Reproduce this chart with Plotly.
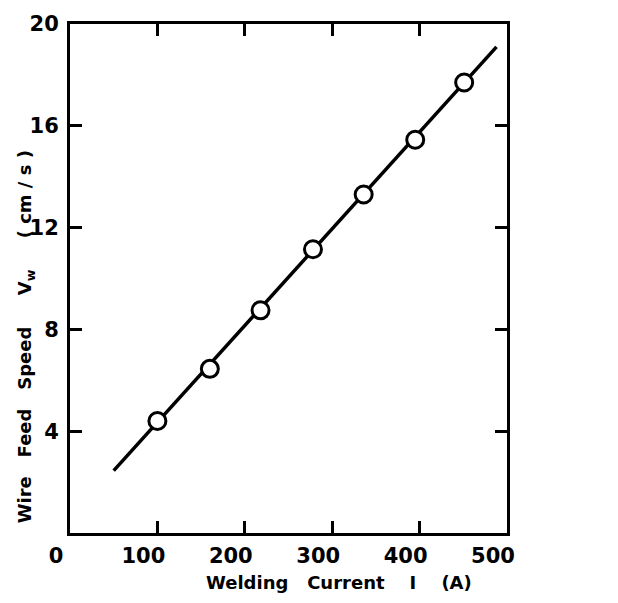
import plotly.graph_objects as go

current = [100, 160, 218, 278, 336, 395, 451]
speed = [4.4, 6.45, 8.75, 11.15, 13.3, 15.45, 17.7]
fit_current = [50, 488]
fit_speed = [2.45, 19.1]
x_ticks = [0, 100, 200, 300, 400, 500]
y_ticks = [4, 8, 12, 16, 20]
x_title = "Welding   Current    I    (A)"
y_title = "Wire   Feed   Speed     V<sub>w</sub>     ( cm / s )"

font = "DejaVu Sans"

fig = go.Figure()
fig.add_trace(go.Scatter(x=fit_current, y=fit_speed, mode="lines",
                         line=dict(color="black", width=3.5), hoverinfo="skip"))
fig.add_trace(go.Scatter(x=current, y=speed, mode="markers",
                         marker=dict(symbol="circle", size=17, color="white",
                                     line=dict(color="black", width=3))))

axis_common = dict(showgrid=False, zeroline=False, showline=True, linecolor="black",
                   linewidth=3, mirror="ticks", ticks="inside", ticklen=12,
                   tickwidth=2.5, tickcolor="black",
                   tickfont=dict(family=font, size=21, color="black", weight=700))

fig.update_layout(
    width=618, height=603, margin=dict(l=70, r=111, t=17, b=70),
    paper_bgcolor="white", plot_bgcolor="white", showlegend=False,
    font=dict(family=font, color="black"),
    xaxis=dict(range=[0, 500], tickvals=x_ticks, ticktext=[str(v) for v in x_ticks],
               ticklabelshift=-14, ticklabelstandoff=2, **axis_common),
    yaxis=dict(range=[0, 20], tickvals=y_ticks, ticktext=[str(v) for v in y_ticks],
               ticklabelstandoff=4, **axis_common),
    annotations=[
        dict(text=x_title, xref="paper", yref="paper", x=0.615, y=-0.072,
             xanchor="center", yanchor="top", showarrow=False,
             font=dict(family=font, size=18, color="black", weight=700)),
        dict(text=y_title, xref="paper", yref="paper", x=-0.1, y=0.385,
             xanchor="center", yanchor="middle", textangle=-90, showarrow=False,
             font=dict(family=font, size=18, color="black", weight=700)),
    ],
)

fig.write_html("out.html")
